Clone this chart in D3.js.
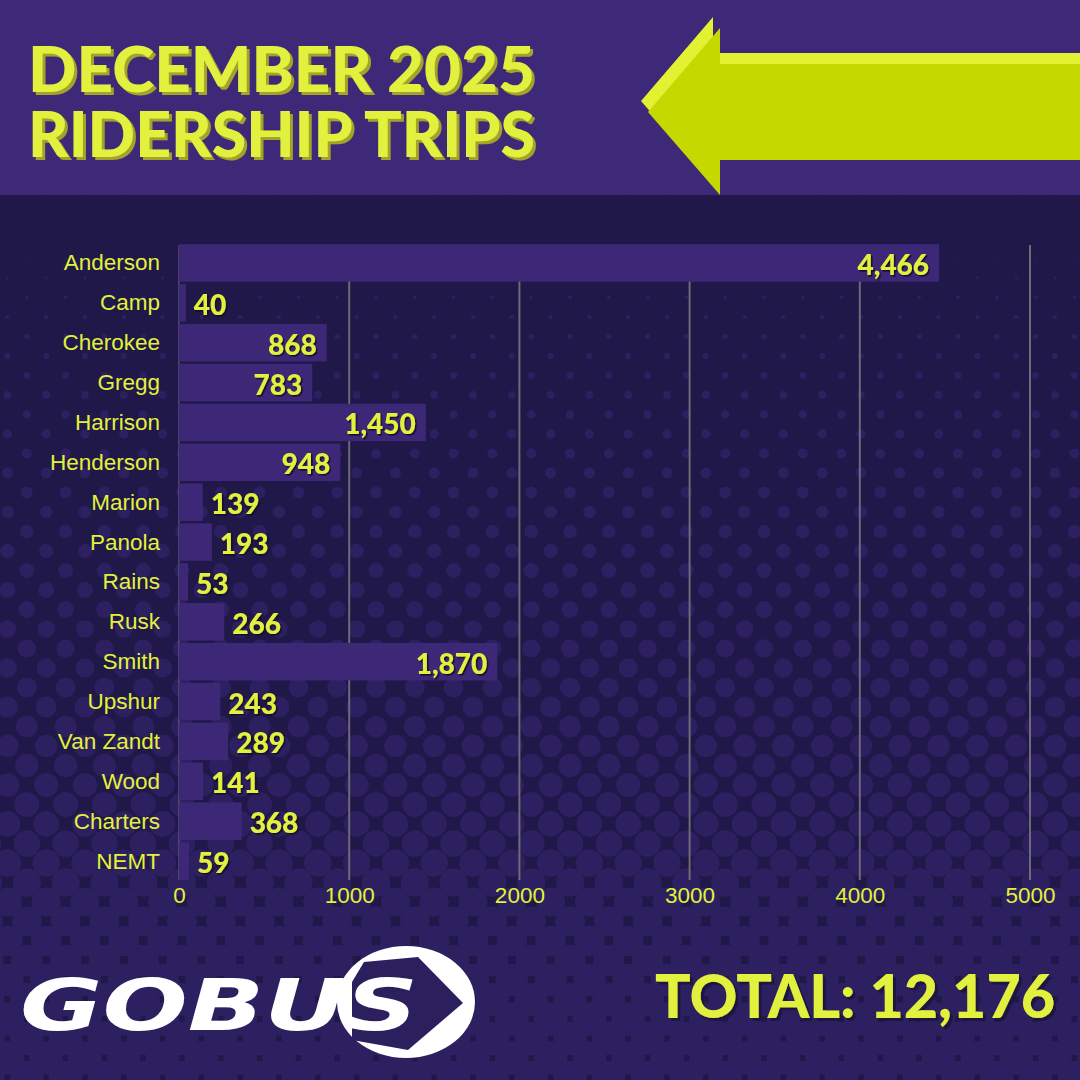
<!DOCTYPE html>
<html>
<head>
<meta charset="utf-8">
<script src="https://cdn.jsdelivr.net/npm/d3@7"></script>
<style>
  html, body { margin: 0; padding: 0; background: #1f1848; }
  svg { display: block; }
</style>
</head>
<body>
<svg id="chart" width="1080" height="1080"></svg>
<script>
const counties = ["Anderson", "Camp", "Cherokee", "Gregg", "Harrison", "Henderson", "Marion", "Panola",
  "Rains", "Rusk", "Smith", "Upshur", "Van Zandt", "Wood", "Charters", "NEMT"];
const trips = [4466, 40, 868, 783, 1450, 948, 139, 193, 53, 266, 1870, 243, 289, 141, 368, 59];
const xTicks = [0, 1000, 2000, 3000, 4000, 5000];
const titleLines = ["DECEMBER 2025", "RIDERSHIP TRIPS"];
const totalLabel = "TOTAL: 12,176";

const yellow = "#e2f13c";
const svg = d3.select("#chart");

// drop shadows instead of doubled text
const defs = svg.append("defs");
const shadow = (id, color, dx, dy) =>
  defs.append("filter").attr("id", id)
    .attr("x", "-10%").attr("y", "-20%").attr("width", "120%").attr("height", "150%")
    .append("feDropShadow")
    .attr("dx", dx).attr("dy", dy).attr("stdDeviation", 0)
    .attr("flood-color", color).attr("flood-opacity", 1);
shadow("olive", "#a3a22c", 3, 3);
shadow("dark", "#15102f", 1.5, 1.5);
shadow("dark2", "#1a1340", 3, 3);

// background: dark with purple dots that grow toward the bottom
svg.append("rect").attr("width", 1080).attr("height", 1080).attr("fill", "#1f1848");
const dots = [];
for (let row = 0; row * 19.5 + 200 < 1090; row++) {
  const y = 200 + row * 19.5;
  const off = row % 2 ? 0 : 19.4;
  for (let x = off - 12; x < 1100; x += 38.8) dots.push([x, y]);
}
svg.append("g")
  .selectAll("circle")
  .data(dots)
  .join("circle")
  .attr("cx", (d) => d[0])
  .attr("cy", (d) => d[1])
  .attr("r", (d) => Math.max(0.5, Math.min(16.8, 4 + (d[1] - 400) * 0.021)))
  .attr("fill", "#2d2060");

// header band
svg.append("rect").attr("width", 1080).attr("height", 195).attr("fill", "#3e2878");
svg.append("polygon")
  .attr("points", "1080,53 713,53 713,17 641,101 713,184 713,150 1080,150")
  .attr("fill", "#e2f132");
svg.append("polygon")
  .attr("points", "1080,64 720,64 720,28 648,112 720,195 720,160 1080,160")
  .attr("fill", "#c5d800");

svg.append("g")
  .attr("font-family", "Lato").attr("font-weight", 900).attr("font-size", 62)
  .attr("fill", yellow)
  .attr("filter", "url(#olive)")
  .selectAll("text")
  .data(titleLines)
  .join("text")
  .attr("x", 28).attr("y", (_, i) => 92 + i * 65)
  .attr("textLength", 507).attr("lengthAdjust", "spacingAndGlyphs")
  .text((d) => d);

// chart
const x = d3.scaleLinear().domain([0, 5000]).range([179, 1030]);
const y = d3.scaleBand().domain(counties).range([243, 881]).paddingInner(0.06).paddingOuter(0.03);

svg.append("g")
  .selectAll("line")
  .data(xTicks)
  .join("line")
  .attr("x1", (d) => x(d)).attr("x2", (d) => x(d))
  .attr("y1", 245).attr("y2", 880)
  .attr("stroke", "#6e6a78")
  .attr("stroke-width", (d) => (d === 0 ? 1 : 2));

svg.append("g")
  .selectAll("rect")
  .data(trips)
  .join("rect")
  .attr("x", x(0))
  .attr("y", (_, i) => y(counties[i]))
  .attr("width", (d) => x(d) - x(0))
  .attr("height", y.bandwidth())
  .attr("fill", "#3d2878");

const inside = (d) => x(d) - x(0) > 100;
const fmt = d3.format(",");
svg.append("g")
  .attr("font-family", "Lato").attr("font-weight", 900).attr("font-size", 28)
  .attr("fill", yellow)
  .attr("filter", "url(#dark)")
  .selectAll("text")
  .data(trips)
  .join("text")
  .attr("x", (d) => (inside(d) ? x(d) - 10 : x(d) + 8))
  .attr("y", (_, i) => y(counties[i]) + y.bandwidth() / 2 + 1)
  .attr("dominant-baseline", "central")
  .attr("text-anchor", (d) => (inside(d) ? "end" : "start"))
  .text((d) => fmt(d));

svg.append("g")
  .selectAll("text")
  .data(counties)
  .join("text")
  .attr("x", 160)
  .attr("y", (d) => y(d) + y.bandwidth() / 2)
  .attr("dominant-baseline", "central")
  .attr("text-anchor", "end")
  .attr("font-family", "Liberation Sans, Arial, sans-serif")
  .attr("font-size", 22.5)
  .attr("fill", yellow)
  .text((d) => d);

const axis = svg.append("g")
  .attr("transform", "translate(0,882)")
  .call(d3.axisBottom(x).tickValues(xTicks).tickFormat(d3.format("d")).tickSize(0).tickPadding(5));
axis.select(".domain").remove();
axis.selectAll("text")
  .attr("font-family", "Liberation Sans, Arial, sans-serif")
  .attr("font-size", 22.5)
  .attr("fill", yellow);

// logo
const logo = svg.append("g");
logo.append("ellipse").attr("cx", 406).attr("cy", 1002).attr("rx", 69).attr("ry", 56).attr("fill", "#fff");
logo.append("polygon")
  .attr("points", "352,982 364,962 418,957 463,1003 408,1050 352,1040")
  .attr("fill", "#2c1f5e");
logo.append("text")
  .attr("x", 20).attr("y", 1030)
  .attr("textLength", 398).attr("lengthAdjust", "spacingAndGlyphs")
  .attr("font-family", "DejaVu Sans").attr("font-weight", "bold").attr("font-style", "italic")
  .attr("font-size", 72)
  .attr("fill", "#fff")
  .text("GOBUS");

// total
svg.append("text")
  .attr("x", 655).attr("y", 1018)
  .attr("textLength", 400).attr("lengthAdjust", "spacingAndGlyphs")
  .attr("font-family", "Lato").attr("font-weight", 900).attr("font-size", 61)
  .attr("fill", yellow)
  .attr("filter", "url(#dark2)")
  .text(totalLabel);
</script>
</body>
</html>
